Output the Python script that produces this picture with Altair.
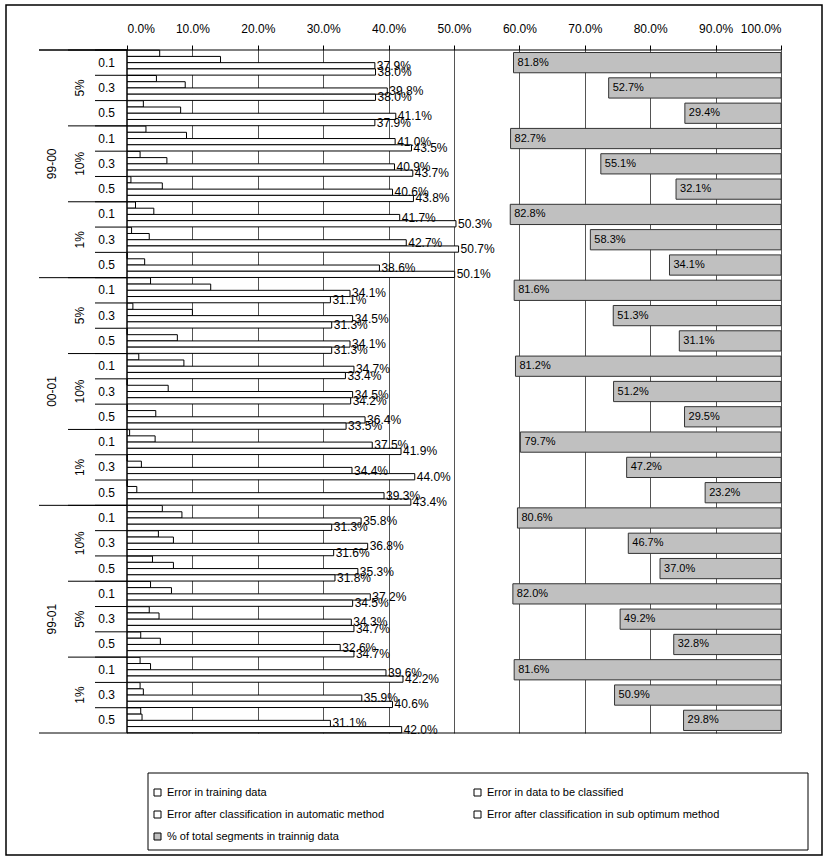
import altair as alt
import pandas as pd

FONT = "Liberation Sans"

periods = ["99-00"] * 9 + ["00-01"] * 9 + ["99-01"] * 9
samples = (["5%"] * 3 + ["10%"] * 3 + ["1%"] * 3 +
           ["5%"] * 3 + ["10%"] * 3 + ["1%"] * 3 +
           ["10%"] * 3 + ["5%"] * 3 + ["1%"] * 3)
thresholds = ["0.1", "0.3", "0.5"] * 9

err_training = [5.0, 4.5, 2.5, 2.9, 2.0, 0.6, 1.3, 0.7, 0.0,
                3.6, 0.9, 0.0, 1.8, 0.0, 0.0, 0.4, 0.0, 0.0,
                5.4, 4.8, 3.9, 3.6, 3.4, 2.1, 2.0, 2.0, 2.1]
err_to_classify = [14.3, 8.9, 8.2, 9.1, 6.1, 5.4, 4.1, 3.4, 2.7,
                   12.8, 10.0, 7.7, 8.7, 6.3, 4.4, 4.3, 2.2, 1.5,
                   8.4, 7.1, 7.1, 6.8, 4.9, 5.1, 3.6, 2.5, 2.3]
err_automatic = [37.9, 39.8, 41.1, 41.0, 40.9, 40.6, 41.7, 42.7, 38.6,
                 34.1, 34.5, 34.1, 34.7, 34.5, 36.4, 37.5, 34.4, 39.3,
                 35.8, 36.8, 35.3, 37.2, 34.3, 32.6, 39.6, 35.9, 31.1]
err_sub_optimum = [38.0, 38.0, 37.9, 43.5, 43.7, 43.8, 50.3, 50.7, 50.1,
                   31.1, 31.3, 31.3, 33.4, 34.2, 33.5, 41.9, 44.0, 43.4,
                   31.3, 31.6, 31.8, 34.5, 34.7, 34.7, 42.2, 40.6, 42.0]
pct_segments = [81.8, 52.7, 29.4, 82.7, 55.1, 32.1, 82.8, 58.3, 34.1,
                81.6, 51.3, 31.1, 81.2, 51.2, 29.5, 79.7, 47.2, 23.2,
                80.6, 46.7, 37.0, 82.0, 49.2, 32.8, 81.6, 50.9, 29.8]

series_names = ["Error in training data",
                "Error in data to be classified",
                "Error after classification in automatic method",
                "Error after classification in sub optimum method",
                "% of total segments in trainnig data"]
series_colors = ["white", "white", "white", "white", "#c0c0c0"]

W, H = 654, 683

rows = list(range(27))
rows_df = pd.DataFrame({"row": rows, "period": periods, "sample": samples, "thr": thresholds})

white_values = [err_training, err_to_classify, err_automatic, err_sub_optimum]
white_df = pd.DataFrame([
    {"row": r, "series": series_names[s], "value": white_values[s][r]}
    for s in range(4) for r in rows
])
grey_df = pd.DataFrame({"row": rows, "series": series_names[4], "pct": pct_segments})

y_scale = alt.Scale(paddingInner=0, paddingOuter=0)
y_enc = alt.Y("row:O", axis=None, scale=y_scale)
y_top = alt.Y("row:O", axis=None, scale=y_scale, bandPosition=0)
yoff = alt.YOffset("series:N", scale=alt.Scale(domain=series_names[:4], paddingInner=0, paddingOuter=0.03))

fill_enc = alt.Fill(
    "series:N",
    scale=alt.Scale(domain=series_names, range=series_colors),
    legend=alt.Legend(title=None, orient="none", legendX=25, legendY=737, columns=2,
                      direction="horizontal",
                      columnPadding=87, rowPadding=10, symbolType="square", symbolSize=49,
                      symbolStrokeColor="black", symbolStrokeWidth=1, labelFont=FONT,
                      labelFontSize=11, labelColor="black", padding=0, labelLimit=0),
)

x_axis = alt.Axis(orient="top", values=list(range(0, 101, 10)),
                  labelExpr="format(datum.value, '.1f') + '%'", title=None, domain=False,
                  tickColor="black", tickSize=5, labelFont=FONT, labelFontSize=12,
                  labelColor="black", gridColor="#555555", labelPadding=10)
x_main = alt.X("value:Q", scale=alt.Scale(domain=[0, 100]), axis=x_axis)

white_bars = alt.Chart(white_df).mark_bar(stroke="black", strokeWidth=1).encode(
    x=x_main, y=y_enc, yOffset=yoff, fill=fill_enc,
)
white_labels = alt.Chart(white_df).transform_filter(
    alt.FieldOneOfPredicate(field="series", oneOf=series_names[2:4])
).transform_calculate(
    lbl="format(datum.value, '.1f') + '%'"
).mark_text(align="left", baseline="middle", dx=2, font=FONT, fontSize=12, color="black").encode(
    x=x_main, y=y_enc, yOffset=yoff, text="lbl:N",
)

thr_text = alt.Chart(rows_df).mark_text(align="right", baseline="middle", font=FONT,
                                        fontSize=12, color="black").encode(
    x=alt.value(-12), y=y_enc, text="thr:N")
sample_text = alt.Chart(rows_df).transform_filter("datum.thr == '0.3'").mark_text(
    angle=270, align="center", baseline="middle", font=FONT, fontSize=12, color="black").encode(
    x=alt.value(-47), y=y_enc, text="sample:N")
period_text = alt.Chart(rows_df).transform_filter("datum.row % 9 == 4").mark_text(
    angle=270, align="center", baseline="middle", font=FONT, fontSize=12, color="black").encode(
    x=alt.value(-75), y=y_enc, text="period:N")

thr_rules = alt.Chart(rows_df).mark_rule(color="black", strokeWidth=1).encode(
    x=alt.value(-32), x2=alt.value(0), y=y_top)
sample_rules = alt.Chart(rows_df).transform_filter("datum.thr == '0.1'").mark_rule(
    color="black", strokeWidth=1).encode(x=alt.value(-59), x2=alt.value(0), y=y_top)
period_rules = alt.Chart(rows_df).transform_filter("datum.row % 9 == 0").mark_rule(
    color="black", strokeWidth=1).encode(x=alt.value(-88), x2=alt.value(0), y=y_top)

deco = pd.DataFrame({"k": [0]})
top_line = alt.Chart(deco).mark_rule(color="black", strokeWidth=1).encode(
    x=alt.value(-88), x2=alt.value(W), y=alt.value(0))
bottom_line = alt.Chart(deco).mark_rule(color="black", strokeWidth=1).encode(
    x=alt.value(-88), x2=alt.value(W), y=alt.value(H))
zero_line = alt.Chart(deco).mark_rule(color="black", strokeWidth=1).encode(
    x=alt.value(0), y=alt.value(0), y2=alt.value(H))
legend_box = alt.Chart(deco).mark_rect(fill=None, stroke="black", strokeWidth=1).encode(
    x=alt.value(21), x2=alt.value(681), y=alt.value(723), y2=alt.value(800))
frame_box = alt.Chart(deco).mark_rect(fill=None, stroke="black", strokeWidth=1.5).encode(
    x=alt.value(-121), x2=alt.value(695), y=alt.value(-45), y2=alt.value(805))

main_layer = alt.layer(
    white_bars, white_labels,
    thr_text, sample_text, period_text,
    thr_rules, sample_rules, period_rules,
    top_line, bottom_line, zero_line, legend_box, frame_box,
)

grey_bars = alt.Chart(grey_df).mark_bar(stroke="#333333", strokeWidth=1,
                                        height=alt.RelativeBandSize(0.8)).encode(
    x=alt.X("pct:Q", scale=alt.Scale(domain=[0, 200], reverse=True), axis=None),
    y=y_enc, fill=fill_enc,
)
grey_labels = alt.Chart(grey_df).transform_calculate(
    lbl="format(datum.pct, '.1f') + '%'"
).mark_text(align="left", baseline="middle", dx=4, font=FONT, fontSize=11, color="black").encode(
    x=alt.X("pct:Q", scale=alt.Scale(domain=[0, 200], reverse=True), axis=None),
    y=y_enc, text="lbl:N",
)
grey_layer = alt.layer(grey_bars, grey_labels)

chart = alt.layer(main_layer, grey_layer).resolve_scale(x="independent").properties(
    width=W, height=H,
    autosize=alt.AutoSizeParams(type="none"),
    padding={"left": 127, "top": 50, "right": 46, "bottom": 126},
    background="white",
).configure_view(stroke=None)

chart.save("out.html", embed_options={"renderer": "svg", "actions": False})
